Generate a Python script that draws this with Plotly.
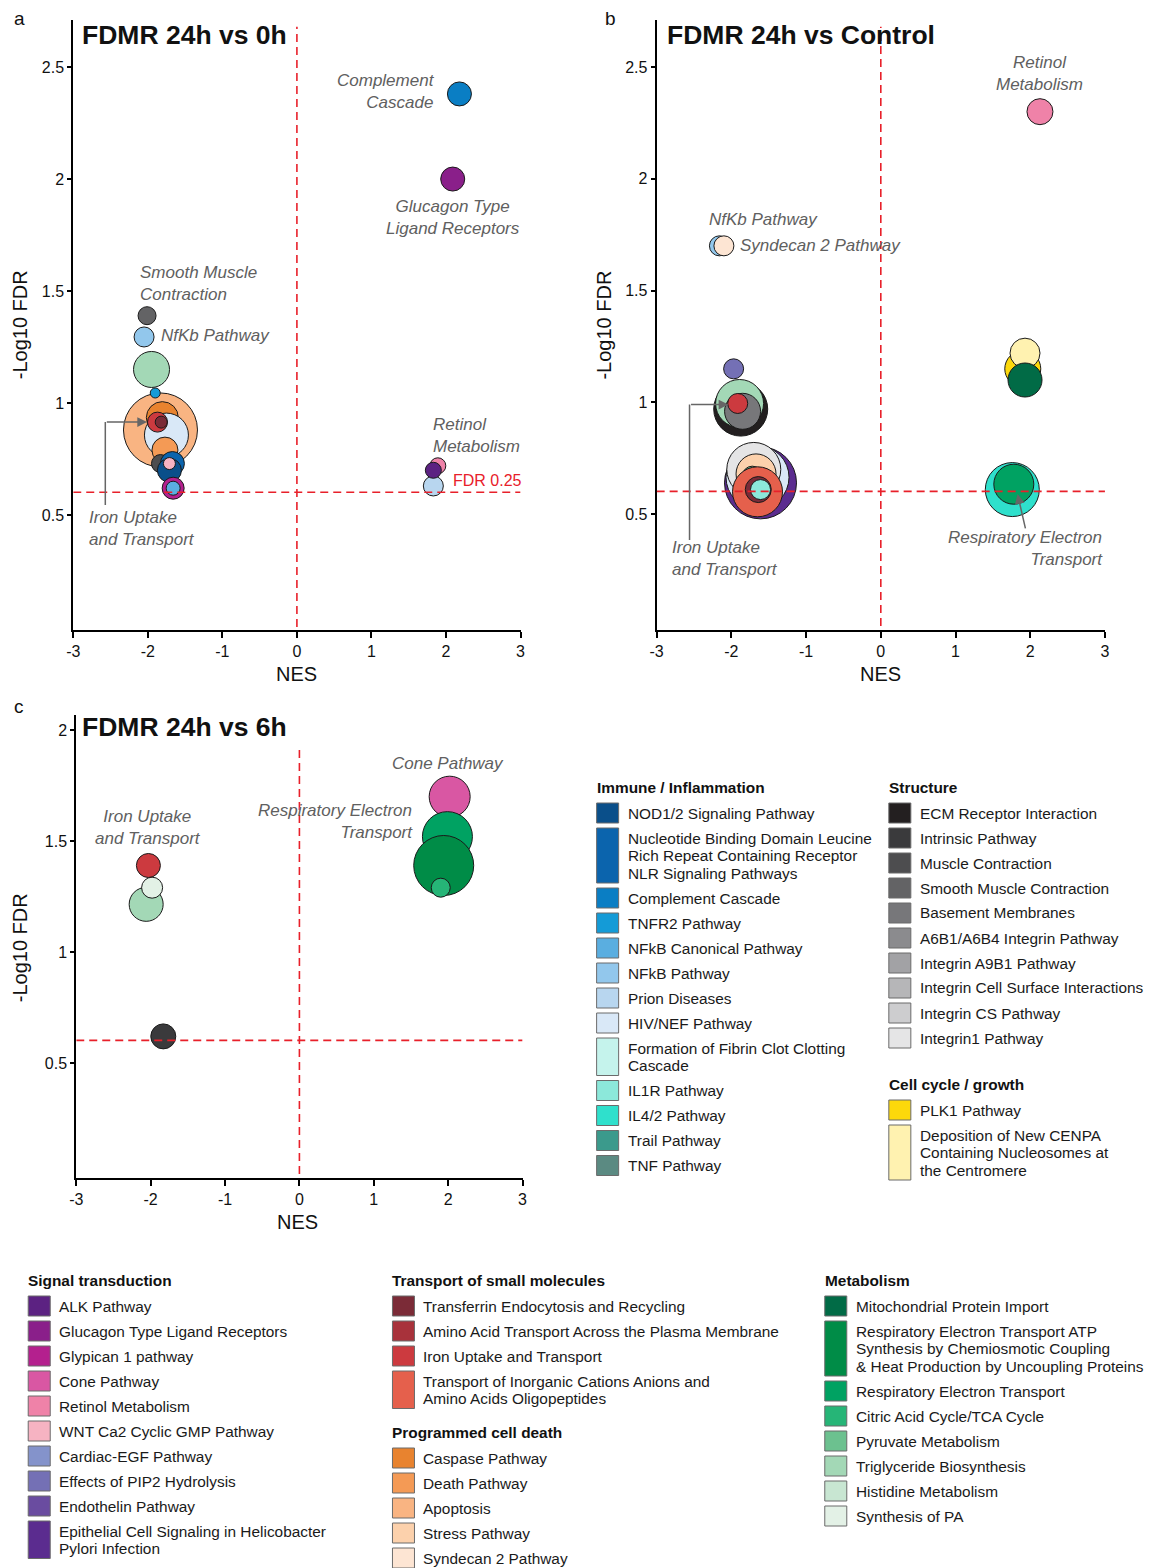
import plotly.graph_objects as go

W, H = 1162, 1568
FONT = "Liberation Sans, Arial, sans-serif"
LABEL_GREY = "#606060"
RED = "#e8202a"
FDR_CUT = 0.602  # -log10(0.25)

# ---------------- pathway groups (legend labels and colours) ----------------
immune_labels = [
    "NOD1/2 Signaling Pathway",
    "Nucleotide Binding Domain Leucine<br>Rich Repeat Containing Receptor<br>NLR Signaling Pathways",
    "Complement Cascade", "TNFR2 Pathway", "NFkB Canonical Pathway", "NFkB Pathway",
    "Prion Diseases", "HIV/NEF Pathway", "Formation of Fibrin Clot Clotting<br>Cascade",
    "IL1R Pathway", "IL4/2 Pathway", "Trail Pathway", "TNF Pathway",
]
immune_colors = ["#0a4f8a", "#0b64ad", "#0a7ec4", "#149bd7", "#5aaee0", "#92c7ec",
                 "#b8d6ef", "#d9e8f7", "#c5f3ec", "#8ce8da", "#2fe0cc", "#3b9a8c", "#5b8a82"]

structure_labels = [
    "ECM Receptor Interaction", "Intrinsic Pathway", "Muscle Contraction",
    "Smooth Muscle Contraction", "Basement Membranes", "A6B1/A6B4 Integrin Pathway",
    "Integrin A9B1 Pathway", "Integrin Cell Surface Interactions", "Integrin CS Pathway",
    "Integrin1 Pathway",
]
structure_colors = ["#231f20", "#3a3a3c", "#4d4d4f", "#636365", "#77777a", "#8b8b8e",
                    "#a2a2a5", "#b6b6b8", "#cdcdcf", "#e5e5e6"]

cellcycle_labels = ["PLK1 Pathway",
                    "Deposition of New CENPA<br>Containing Nucleosomes at<br>the Centromere"]
cellcycle_colors = ["#fcd80b", "#fff2b0"]

signal_labels = [
    "ALK Pathway", "Glucagon Type Ligand Receptors", "Glypican 1 pathway", "Cone Pathway",
    "Retinol Metabolism", "WNT Ca2 Cyclic GMP Pathway", "Cardiac-EGF Pathway",
    "Effects of PIP2 Hydrolysis", "Endothelin Pathway",
    "Epithelial Cell Signaling in Helicobacter<br>Pylori Infection",
]
signal_colors = ["#5c2282", "#8a1f8a", "#b4208e", "#d957a3", "#ef82a8", "#f6b3c2",
                 "#8493cb", "#7470b5", "#6a4ca0", "#5b2c8f"]

transport_labels = [
    "Transferrin Endocytosis and Recycling", "Amino Acid Transport Across the Plasma Membrane",
    "Iron Uptake and Transport",
    "Transport of Inorganic Cations Anions and<br>Amino Acids Oligopeptides",
]
transport_colors = ["#7b2b37", "#a8323b", "#cc3a3f", "#e5604c"]

death_labels = ["Caspase Pathway", "Death Pathway", "Apoptosis", "Stress Pathway",
                "Syndecan 2 Pathway"]
death_colors = ["#e8832f", "#f49a55", "#f9b482", "#fcd1ac", "#fde5d3"]

metab_labels = [
    "Mitochondrial Protein Import",
    "Respiratory Electron Transport ATP<br>Synthesis by Chemiosmotic Coupling<br>& Heat Production by Uncoupling Proteins",
    "Respiratory Electron Transport", "Citric Acid Cycle/TCA Cycle", "Pyruvate Metabolism",
    "Triglyceride Biosynthesis", "Histidine Metabolism", "Synthesis of PA",
]
metab_colors = ["#016b46", "#008c47", "#00a262", "#26b577", "#6cc18f", "#a3d8b6",
                "#c8e6d2", "#e3f1e6"]

COLOR = {}
for labs, cols in [(immune_labels, immune_colors), (structure_labels, structure_colors),
                   (cellcycle_labels, cellcycle_colors), (signal_labels, signal_colors),
                   (transport_labels, transport_colors), (death_labels, death_colors),
                   (metab_labels, metab_colors)]:
    for lab, col in zip(labs, cols):
        COLOR[lab.replace("<br>", " ")] = col

RESP_ATP = ("Respiratory Electron Transport ATP Synthesis by Chemiosmotic Coupling "
            "& Heat Production by Uncoupling Proteins")
NLR = ("Nucleotide Binding Domain Leucine Rich Repeat Containing Receptor "
       "NLR Signaling Pathways")

# ---------------- panel a: FDMR 24h vs 0h (drawing order) ----------------
a_path = ["Apoptosis", "Caspase Pathway", "HIV/NEF Pathway", "Triglyceride Biosynthesis",
          "Death Pathway", "Muscle Contraction", NLR, "NOD1/2 Signaling Pathway",
          "WNT Ca2 Cyclic GMP Pathway", "Glypican 1 pathway", "NFkB Canonical Pathway",
          "Iron Uptake and Transport", "Transferrin Endocytosis and Recycling",
          "TNFR2 Pathway", "NFkB Pathway", "Smooth Muscle Contraction",
          "Complement Cascade", "Glucagon Type Ligand Receptors",
          "Retinol Metabolism", "Prion Diseases", "ALK Pathway"]
a_nes = [-1.83, -1.805, -1.75, -1.95, -1.77, -1.83, -1.67, -1.71, -1.71, -1.66, -1.66,
         -1.87, -1.82, -1.90, -2.05, -2.01, 2.18, 2.09, 1.89, 1.83, 1.83]
a_logfdr = [0.88, 0.935, 0.857, 1.15, 0.79, 0.73, 0.73, 0.70, 0.73, 0.62, 0.62,
            0.915, 0.915, 1.045, 1.295, 1.39, 2.38, 2.00, 0.72, 0.63, 0.70]
a_size = [74, 32, 44, 36, 26, 18, 24, 24, 12, 22, 14, 20, 12, 10, 20, 18, 24, 24, 16, 20, 16]

# ---------------- panel b: FDMR 24h vs Control ----------------
b_path = ["Retinol Metabolism", "NFkB Pathway", "Syndecan 2 Pathway",
          "Effects of PIP2 Hydrolysis", "ECM Receptor Interaction",
          "Triglyceride Biosynthesis", "Basement Membranes", "Iron Uptake and Transport",
          "Epithelial Cell Signaling in Helicobacter Pylori Infection", "HIV/NEF Pathway",
          "Integrin1 Pathway", "Stress Pathway", "Pyruvate Metabolism",
          "NFkB Canonical Pathway", "Integrin A9B1 Pathway",
          "Transport of Inorganic Cations Anions and Amino Acids Oligopeptides",
          "Transferrin Endocytosis and Recycling", "IL1R Pathway",
          "PLK1 Pathway", "Deposition of New CENPA Containing Nucleosomes at the Centromere",
          "Mitochondrial Protein Import", "IL4/2 Pathway", "Respiratory Electron Transport"]
b_nes = [2.13, -2.16, -2.10, -1.97, -1.875, -1.89, -1.85, -1.915,
         -1.61, -1.65, -1.70, -1.67, -1.72, -1.57, -1.74, -1.65, -1.64, -1.61,
         1.90, 1.93, 1.93, 1.76, 1.78]
b_logfdr = [2.30, 1.70, 1.70, 1.15, 0.97, 0.995, 0.96, 0.995,
            0.64, 0.665, 0.70, 0.68, 0.67, 0.67, 0.64, 0.60, 0.61, 0.61,
            1.15, 1.22, 1.10, 0.61, 0.634]
b_size = [26, 20, 20, 20, 54, 48, 36, 20,
          72, 63, 54, 40, 20, 16, 14, 50, 26, 20,
          36, 30, 34, 54, 40]

# ---------------- panel c: FDMR 24h vs 6h ----------------
c_path = ["Triglyceride Biosynthesis", "Synthesis of PA", "Iron Uptake and Transport",
          "Intrinsic Pathway", "Cone Pathway", "Respiratory Electron Transport",
          RESP_ATP, "Citric Acid Cycle/TCA Cycle"]
c_nes = [-2.06, -1.98, -2.03, -1.83, 2.02, 1.99, 1.94, 1.90]
c_logfdr = [1.215, 1.29, 1.39, 0.62, 1.70, 1.52, 1.39, 1.29]
c_size = [34, 21, 24, 25, 41, 50, 60, 19]

x_ticks = [-3, -2, -1, 0, 1, 2, 3]
x_ticktext = ["-3", "-2", "-1", "0", "1", "2", "3"]
y_ticks_ab = [0.5, 1, 1.5, 2, 2.5]
y_ticks_c = [0.5, 1, 1.5, 2]

# horizontal page calibration: the rendered figure spans ~1149 px starting ~7 px in
X_OFF, X_SPAN = 6.8, 1149.2


def ppx(x):
    return (x - X_OFF) / X_SPAN


def ppy(y):
    return 1 - y / H


fig = go.Figure()

panels = [
    ("x", "y", a_path, a_nes, a_logfdr, a_size),
    ("x2", "y2", b_path, b_nes, b_logfdr, b_size),
    ("x3", "y3", c_path, c_nes, c_logfdr, c_size),
]
for xa, ya, names, nes, lf, sz in panels:
    fig.add_trace(go.Scatter(
        x=nes, y=lf, mode="markers", xaxis=xa, yaxis=ya, text=names,
        hovertemplate="%{text}<br>NES %{x}<br>-log10 FDR %{y}<extra></extra>",
        marker=dict(size=sz, color=[COLOR[n] for n in names], opacity=1,
                    line=dict(color="#1a1a1a", width=1)),
    ))

axis_common = dict(showgrid=False, zeroline=False, showline=True, linecolor="black",
                   linewidth=2, ticks="outside", tickcolor="black", tickwidth=1.5,
                   tickfont=dict(size=16, color="#111", family=FONT), fixedrange=True)

fig.update_layout(
    width=W, height=H, margin=dict(l=0, r=0, t=0, b=0),
    paper_bgcolor="white", plot_bgcolor="white", showlegend=False,
    font=dict(family=FONT, color="#222"),
    xaxis=dict(domain=[ppx(73), ppx(520)], range=[-3, 3], anchor="y", tickvals=x_ticks,
               ticktext=x_ticktext, ticklen=6, **axis_common),
    yaxis=dict(domain=[ppy(630), ppy(20)], range=[-0.013, 2.71], anchor="x",
               tickvals=y_ticks_ab, ticktext=[str(v) for v in y_ticks_ab], ticklen=4,
               **axis_common),
    xaxis2=dict(domain=[ppx(656), ppx(1104)], range=[-3, 3], anchor="y2", tickvals=x_ticks,
                ticktext=x_ticktext, ticklen=6, **axis_common),
    yaxis2=dict(domain=[ppy(630), ppy(20)], range=[-0.018, 2.71], anchor="x2",
                tickvals=y_ticks_ab, ticktext=[str(v) for v in y_ticks_ab], ticklen=4,
                **axis_common),
    xaxis3=dict(domain=[ppx(76), ppx(522)], range=[-3, 3], anchor="y3", tickvals=x_ticks,
                ticktext=x_ticktext, ticklen=6, **axis_common),
    yaxis3=dict(domain=[ppy(1178), ppy(715)], range=[-0.018, 2.068], anchor="x3",
                tickvals=y_ticks_c, ticktext=[str(v) for v in y_ticks_c], ticklen=4,
                **axis_common),
)

shapes = []
annotations = []

# FDR threshold and NES = 0 guides
for xa, ya, ytop in [("x", "y", 2.68), ("x2", "y2", 2.68), ("x3", "y3", 1.93)]:
    shapes.append(dict(type="line", xref=xa, yref=ya, x0=0, x1=0, y0=0, y1=ytop,
                       line=dict(color=RED, width=1.6, dash="8px,5px")))
    shapes.append(dict(type="line", xref=xa, yref=ya, x0=-3, x1=3, y0=FDR_CUT, y1=FDR_CUT,
                       line=dict(color=RED, width=1.6, dash="8px,5px")))


def label(xa, ya, x, y, text, xanchor="left", align="left", color=LABEL_GREY, italic=True,
          size=17):
    annotations.append(dict(xref=xa, yref=ya, x=x, y=y, text=f"<i>{text}</i>" if italic else text,
                            showarrow=False, xanchor=xanchor, yanchor="middle", align=align,
                            font=dict(size=size, color=color, family=FONT)))


# panel a labels
label("x", "y", 1.88, 2.39, "Complement<br>Cascade", xanchor="right", align="right")
label("x", "y", 2.09, 1.83, "Glucagon Type<br>Ligand Receptors", xanchor="center", align="center")
label("x", "y", -2.13, 1.535, "Smooth Muscle<br>Contraction")
label("x", "y", -1.85, 1.30, "NfKb Pathway")
label("x", "y", 1.80, 0.857, "Retinol<br>Metabolism")
label("x", "y", 2.07, 0.655, "FDR 0.25", color=RED, italic=False, size=16)
label("x", "y", -2.82, 0.44, "Iron Uptake<br>and Transport")

# panel b labels
label("x2", "y2", 2.13, 2.47, "Retinol<br>Metabolism", xanchor="center", align="center")
label("x2", "y2", -2.32, 1.82, "NfKb Pathway")
label("x2", "y2", -1.91, 1.70, "Syndecan 2 Pathway")
label("x2", "y2", -2.82, 0.30, "Iron Uptake<br>and Transport")
label("x2", "y2", 2.999, 0.345, "Respiratory Electron<br>Transport", xanchor="right", align="right")

# panel c labels
label("x3", "y3", 2.0, 1.85, "Cone Pathway", xanchor="center", align="center")
label("x3", "y3", 1.55, 1.59, "Respiratory Electron<br>Transport", xanchor="right", align="right")
label("x3", "y3", -2.03, 1.56, "Iron Uptake<br>and Transport", xanchor="center", align="center")

# leader lines with arrowheads
ARROW = "#666666"
shapes.append(dict(type="line", xref="x", yref="y", x0=-2.57, x1=-2.57, y0=0.545, y1=0.915,
                   line=dict(color=ARROW, width=1.5)))
annotations.append(dict(xref="x", yref="y", axref="x", ayref="y", x=-2.01, y=0.915,
                        ax=-2.57, ay=0.915, text="", showarrow=True, arrowhead=2,
                        arrowsize=1.3, arrowwidth=1.5, arrowcolor=ARROW))
shapes.append(dict(type="line", xref="x2", yref="y2", x0=-2.56, x1=-2.56, y0=0.384, y1=0.99,
                   line=dict(color=ARROW, width=1.5)))
annotations.append(dict(xref="x2", yref="y2", axref="x2", ayref="y2", x=-2.04, y=0.99,
                        ax=-2.56, ay=0.99, text="", showarrow=True, arrowhead=2,
                        arrowsize=1.3, arrowwidth=1.5, arrowcolor=ARROW))
annotations.append(dict(xref="x2", yref="y2", axref="x2", ayref="y2", x=1.83, y=0.59,
                        ax=1.94, ay=0.43, text="", showarrow=True, arrowhead=2,
                        arrowsize=1.3, arrowwidth=1.5, arrowcolor=ARROW))


def paper_text(xpx, ypx, text, size=16, xanchor="left", bold=False, angle=0, color="#111"):
    annotations.append(dict(xref="paper", yref="paper", x=ppx(xpx), y=ppy(ypx),
                            text=f"<b>{text}</b>" if bold else text, showarrow=False,
                            xanchor=xanchor, yanchor="middle", textangle=angle,
                            font=dict(size=size, color=color, family=FONT)))


# panel titles, letters and axis titles
paper_text(80, 35, "FDMR 24h vs 0h", size=26.5, bold=True)
paper_text(664, 35, "FDMR 24h vs Control", size=26.5, bold=True)
paper_text(80, 727, "FDMR 24h vs 6h", size=26.5, bold=True)
paper_text(12, 18, "a", size=19)
paper_text(602, 18, "b", size=19)
paper_text(12, 706, "c", size=19)
paper_text(296, 674, "NES", size=20, xanchor="center")
paper_text(880, 674, "NES", size=20, xanchor="center")
paper_text(297, 1222, "NES", size=20, xanchor="center")
paper_text(20, 325, "-Log10 FDR", size=20, xanchor="center", angle=-90)
paper_text(603, 325, "-Log10 FDR", size=20, xanchor="center", angle=-90)
paper_text(20, 948, "-Log10 FDR", size=20, xanchor="center", angle=-90)


# category legends
def legend_block(x0, y_header, title, labels, colors):
    paper_text(x0 - 2, y_header, title, size=15.4, bold=True)
    y = y_header + 26
    for lab, col in zip(labels, colors):
        lines = lab.split("<br>")
        top = y - 10
        bottom = y + 17.5 * (len(lines) - 1) + 10
        shapes.append(dict(type="rect", xref="paper", yref="paper", x0=ppx(x0), x1=ppx(x0 + 22),
                           y0=ppy(bottom), y1=ppy(top), fillcolor=col,
                           line=dict(color="#6b6b6b", width=1)))
        for i, ln in enumerate(lines):
            paper_text(x0 + 29, y + 17.5 * i, ln, size=15.4, color="#1a1a1a")
        y += 25 + 17.5 * (len(lines) - 1)


legend_block(596, 787, "Immune / Inflammation", immune_labels, immune_colors)
legend_block(888, 787, "Structure", structure_labels, structure_colors)
legend_block(888, 1084, "Cell cycle / growth", cellcycle_labels, cellcycle_colors)
legend_block(28, 1280, "Signal transduction", signal_labels, signal_colors)
legend_block(392, 1280, "Transport of small molecules", transport_labels, transport_colors)
legend_block(392, 1432, "Programmed cell death", death_labels, death_colors)
legend_block(824, 1280, "Metabolism", metab_labels, metab_colors)

fig.update_layout(shapes=shapes, annotations=annotations)
fig.write_html("out.html")
